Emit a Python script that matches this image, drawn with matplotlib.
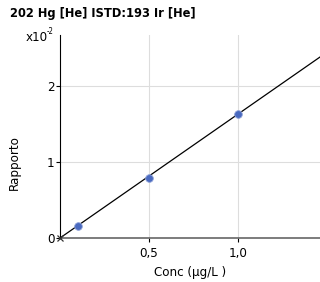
import matplotlib
matplotlib.use('Agg')
import matplotlib.pyplot as plt

plt.rcParams['font.family'] = ['DejaVu Sans']
plt.rcParams['font.stretch'] = 'condensed'

# calibration points
conc = [0.1, 0.5, 1.0]
ratio = [0.16, 0.795, 1.625]
blank_x = [0.0]
blank_y = [0.0]
fit_x = [0.0, 1.5]
slope = 1.63
xticks = [0.5, 1.0]
xticklabels = ['0,5', '1,0']
yticks = [0, 1, 2]

fig = plt.figure(figsize=(3.2, 2.82), dpi=100)
ax = fig.add_axes([0.1875, 0.156, 0.8125, 0.72])

ax.plot(fit_x, [slope * x for x in fit_x], color='black', lw=0.9, zorder=3)
ax.plot(conc, ratio, 'o', color='#4a6ac0', ms=5.5, mec='#8fa2d8', mew=0.6, zorder=4)
ax.plot(blank_x, blank_y, 'x', color='#333333', ms=5, mew=0.9, zorder=4, clip_on=False)

ax.set_xlim(0, 1.46)
ax.set_ylim(0, 2.67)
ax.set_xticks(xticks)
ax.set_xticklabels(xticklabels)
ax.set_yticks(yticks)
ax.grid(True, color='#dddddd', lw=0.8)
ax.set_axisbelow(True)

for s in ['top', 'right']:
    ax.spines[s].set_visible(False)
ax.spines['left'].set_color('black')
ax.spines['bottom'].set_color('#666666')
ax.spines['bottom'].set_linewidth(1.2)
ax.tick_params(axis='both', labelsize=9.5, length=3, color='black')
ax.tick_params(axis='y', pad=1)

ax.set_xlabel('Conc (µg/L )', fontsize=9.5, labelpad=4)
ax.set_ylabel('Rapporto', fontsize=9.5)
ax.yaxis.set_label_coords(-0.15, 0.37)

fig.text(0.03, 0.94, '202 Hg [He] ISTD:193 Ir [He]', fontsize=9.2, fontweight='bold')
fig.text(0.08, 0.855, 'x10', fontsize=9.5)
fig.text(0.145, 0.878, '-2', fontsize=5.5)

fig.savefig('out.png', dpi=100)
